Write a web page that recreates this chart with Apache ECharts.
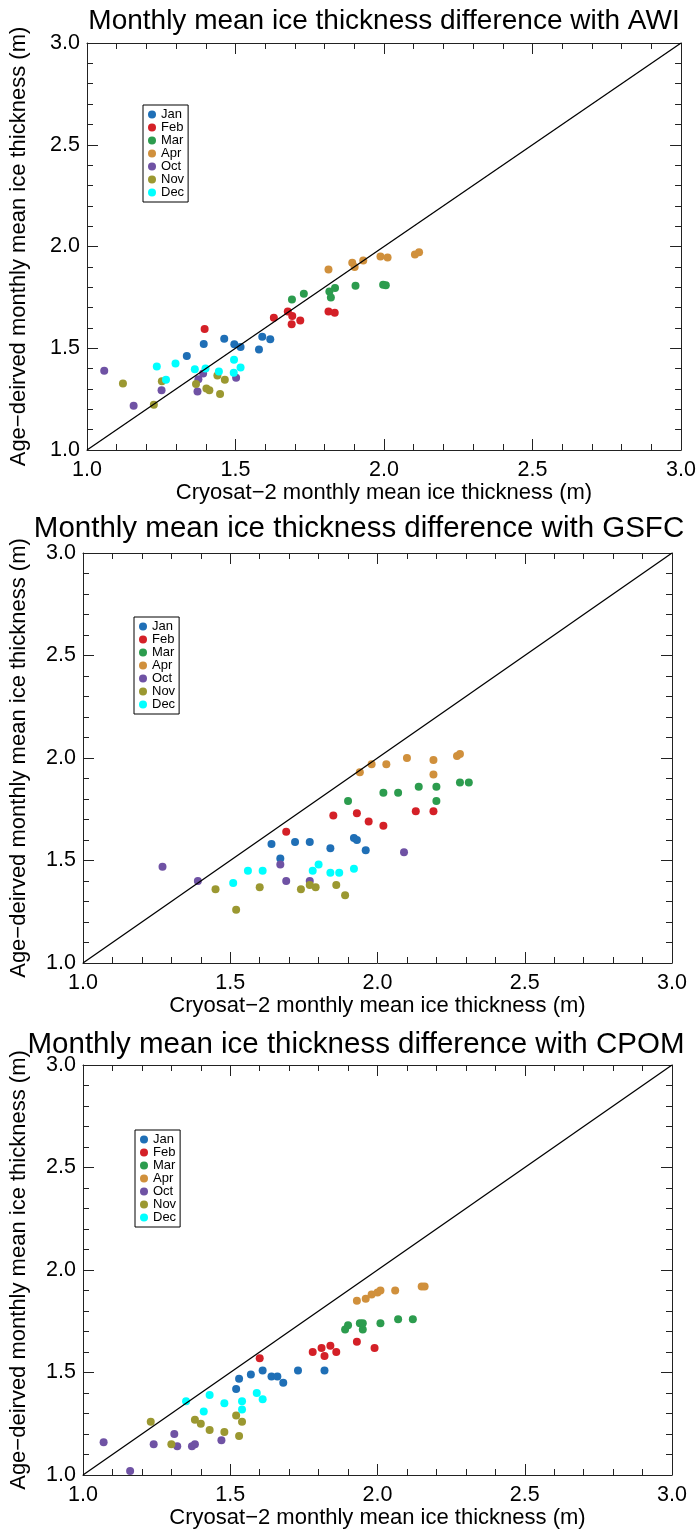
<!DOCTYPE html>
<html><head><meta charset="utf-8">
<script src="https://cdn.jsdelivr.net/npm/echarts@6/dist/echarts.min.js"></script>
<style>html,body{margin:0;padding:0;background:#fff}#c{width:699px;height:1537px}</style>
</head><body><div id="c"></div>
<script>
// ---------- labels ----------
const months = ['Jan','Feb','Mar','Apr','Oct','Nov','Dec'];
const monthColors = ['#1f6fb6','#d42027','#2c9c4e','#d0903c','#6f52a4','#9b9831','#00ffff'];
const tickValues = [1.0, 1.5, 2.0, 2.5, 3.0];
const titles = [
  'Monthly mean ice thickness difference with AWI',
  'Monthly mean ice thickness difference with GSFC',
  'Monthly mean ice thickness difference with CPOM'
];
const xTitle = 'Cryosat\u22122 monthly mean ice thickness (m)';
const yTitle = 'Age\u2212deirved monthly mean ice thickness (m)';
const oneToOne = [[1.0, 1.0], [3.0, 3.0]];

// ---------- AWI ([cryosat, age-derived]) ----------
const awiJan = [[1.336,1.462],[1.393,1.521],[1.462,1.547],[1.496,1.520],[1.517,1.506],[1.579,1.494],[1.590,1.556],[1.617,1.544]];
const awiFeb = [[1.396,1.595],[1.629,1.650],[1.676,1.680],[1.691,1.658],[1.689,1.618],[1.718,1.636],[1.813,1.680],[1.834,1.675]];
const awiMar = [[1.690,1.740],[1.730,1.768],[1.816,1.779],[1.821,1.750],[1.835,1.796],[1.904,1.807],[1.997,1.812],[2.006,1.809]];
const awiApr = [[1.813,1.887],[1.893,1.920],[1.901,1.899],[1.930,1.931],[1.988,1.951],[2.012,1.946],[2.104,1.961],[2.118,1.972]];
const awiOct = [[1.058,1.389],[1.157,1.217],[1.251,1.293],[1.372,1.288],[1.375,1.348],[1.391,1.376],[1.502,1.355]];
const awiNov = [[1.121,1.327],[1.225,1.222],[1.252,1.338],[1.367,1.324],[1.402,1.302],[1.412,1.293],[1.439,1.366],[1.448,1.275],[1.464,1.345]];
const awiDec = [[1.235,1.410],[1.266,1.345],[1.298,1.425],[1.363,1.397],[1.399,1.400],[1.444,1.386],[1.495,1.443],[1.494,1.379],[1.517,1.405]];

// ---------- GSFC ----------
const gsfcJan = [[1.64,1.58],[1.67,1.51],[1.72,1.59],[1.77,1.59],[1.84,1.56],[1.92,1.61],[1.93,1.60],[1.96,1.55]];
const gsfcFeb = [[1.69,1.64],[1.85,1.72],[1.93,1.73],[1.97,1.69],[2.02,1.67],[2.13,1.74],[2.19,1.74]];
const gsfcMar = [[1.90,1.79],[2.02,1.83],[2.07,1.83],[2.14,1.86],[2.20,1.86],[2.20,1.79],[2.28,1.88],[2.31,1.88]];
const gsfcApr = [[1.94,1.93],[1.98,1.97],[2.03,1.97],[2.10,2.00],[2.19,1.99],[2.19,1.92],[2.27,2.01],[2.28,2.02]];
const gsfcOct = [[1.27,1.47],[1.39,1.40],[1.67,1.48],[1.69,1.40],[1.77,1.40],[2.09,1.54]];
const gsfcNov = [[1.45,1.36],[1.52,1.26],[1.60,1.37],[1.74,1.36],[1.77,1.38],[1.79,1.37],[1.86,1.38],[1.89,1.33]];
const gsfcDec = [[1.51,1.39],[1.56,1.45],[1.61,1.45],[1.78,1.45],[1.80,1.48],[1.84,1.44],[1.87,1.44],[1.92,1.46]];

// ---------- CPOM ----------
const cpomJan = [[1.52,1.42],[1.53,1.47],[1.57,1.49],[1.61,1.51],[1.64,1.48],[1.66,1.48],[1.68,1.45],[1.73,1.51],[1.82,1.51]];
const cpomFeb = [[1.60,1.57],[1.78,1.60],[1.81,1.62],[1.82,1.58],[1.84,1.63],[1.86,1.60],[1.93,1.65],[1.99,1.62]];
const cpomMar = [[1.89,1.71],[1.90,1.73],[1.94,1.74],[1.95,1.71],[1.95,1.74],[2.01,1.74],[2.07,1.76],[2.12,1.76]];
const cpomApr = [[1.93,1.85],[1.96,1.86],[1.98,1.88],[2.00,1.89],[2.01,1.90],[2.06,1.90],[2.15,1.92],[2.16,1.92]];
const cpomOct = [[1.07,1.16],[1.16,1.02],[1.24,1.15],[1.31,1.20],[1.32,1.14],[1.37,1.14],[1.38,1.15],[1.47,1.17]];
const cpomNov = [[1.23,1.26],[1.30,1.15],[1.38,1.27],[1.40,1.25],[1.43,1.22],[1.48,1.21],[1.52,1.29],[1.53,1.19],[1.54,1.26]];
const cpomDec = [[1.35,1.36],[1.41,1.31],[1.43,1.39],[1.48,1.35],[1.54,1.36],[1.54,1.32],[1.59,1.40],[1.61,1.37]];

const panelData = [
  [awiJan, awiFeb, awiMar, awiApr, awiOct, awiNov, awiDec],
  [gsfcJan, gsfcFeb, gsfcMar, gsfcApr, gsfcOct, gsfcNov, gsfcDec],
  [cpomJan, cpomFeb, cpomMar, cpomApr, cpomOct, cpomNov, cpomDec]
];

// ---------- layout ----------
const FONT = '"Liberation Sans", Arial, Helvetica, sans-serif';
const panels = [
  {left: 85, top: 43, width: 597, height: 407, titleX: 384, titleY: 21, titleSize: 28, legendLeft: 143, legendTop: 105, yGap: 57},
  {left: 77, top: 553, width: 595, height: 410, titleX: 359, titleY: 529, titleSize: 29.5, legendLeft: 134, legendTop: 617, yGap: 53},
  {left: 77, top: 1065, width: 595, height: 410, titleX: 356, titleY: 1045, titleSize: 29.5, legendLeft: 135, legendTop: 1130, yGap: 53}
];

const grid = [], xAxis = [], yAxis = [], series = [], legend = [], graphic = [];
const fmt = v => (tickValues.indexOf(v) >= 0 ? v.toFixed(1) : '');
function axisBase(extra) {
  return Object.assign({
    type: 'value', min: 1, max: 3, interval: 0.5,
    axisLine: {show: true, onZero: false, lineStyle: {color: '#222', width: 1}},
    axisTick: {show: true, inside: true, length: 11, lineStyle: {color: '#222', width: 1}},
    minorTick: {show: true, splitNumber: 5, length: 6, lineStyle: {color: '#222', width: 1}},
    splitLine: {show: false}, minorSplitLine: {show: false}
  }, extra);
}
panels.forEach((p, i) => {
  grid.push({left: p.left, top: p.top, width: p.width, height: p.height, containLabel: false, show: false});
  xAxis.push(axisBase({gridIndex: i, position: 'bottom',
    name: xTitle, nameLocation: 'middle', nameGap: 32,
    nameTextStyle: {fontSize: 22, fontFamily: FONT, color: '#000'},
    axisLabel: {show: true, margin: 9, fontSize: 21.5, fontFamily: FONT, color: '#000', formatter: fmt}}));
  xAxis.push(axisBase({gridIndex: i, position: 'top', axisLabel: {show: false}}));
  yAxis.push(axisBase({gridIndex: i, position: 'left',
    name: yTitle, nameLocation: 'middle', nameGap: p.yGap, nameRotate: 90,
    nameTextStyle: {fontSize: 22, fontFamily: FONT, color: '#000'},
    axisLabel: {show: true, margin: 7, fontSize: 21.5, fontFamily: FONT, color: '#000', formatter: fmt}}));
  yAxis.push(axisBase({gridIndex: i, position: 'right', axisLabel: {show: false}}));

  panelData[i].forEach((d, m) => {
    series.push({
      type: 'scatter', name: months[m], xAxisIndex: 2 * i, yAxisIndex: 2 * i,
      data: d, symbol: 'circle', symbolSize: 8,
      itemStyle: {color: monthColors[m], opacity: 1},
      emphasis: {disabled: true}, z: 3
    });
  });
  series.push({
    type: 'line', name: '1:1', xAxisIndex: 2 * i, yAxisIndex: 2 * i,
    data: oneToOne, showSymbol: false, symbol: 'none',
    lineStyle: {color: '#000', width: 1.3}, emphasis: {disabled: true}, z: 4, silent: true
  });
  legend.push({
    left: p.legendLeft, top: p.legendTop, orient: 'vertical', data: months,
    icon: 'circle', itemWidth: 8, itemHeight: 8, itemGap: 0, itemTextGap: 4,
    textStyle: {fontSize: 13, fontFamily: FONT, color: '#000'},
    borderColor: '#000', borderWidth: 1, padding: [3, 4, 3, 5], selectedMode: false
  });
  graphic.push({
    type: 'text', x: p.titleX, y: p.titleY,
    style: {text: titles[i], font: p.titleSize + 'px ' + FONT, fill: '#000', align: 'center', verticalAlign: 'middle'}
  });
});

const chart = echarts.init(document.getElementById('c'), null, {renderer: 'canvas'});
chart.setOption({
  animation: false, backgroundColor: '#fff',
  grid, xAxis, yAxis, series, legend, graphic
});
</script></body></html>
